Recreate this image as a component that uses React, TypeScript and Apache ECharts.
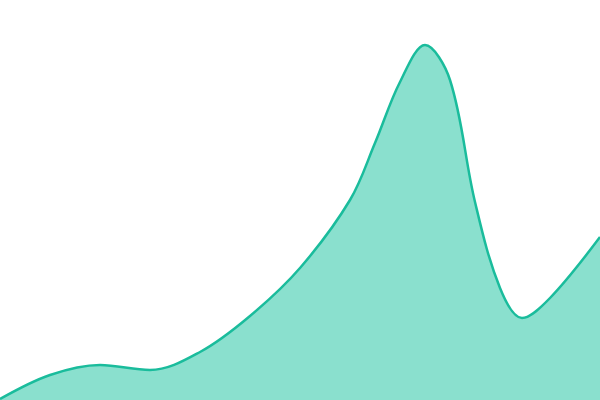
import { useEffect, useRef } from 'react';
import * as echarts from 'echarts';

// sample positions (px along the width) and heights above the baseline
const xPositions = [0, 50, 100, 150, 200, 250, 300, 350, 375, 400, 425, 450, 475, 500, 522, 550, 600];
const heights = [1, 25, 35, 30, 48, 84, 132, 200, 257, 318, 355, 320, 198, 112, 82, 102, 163];

const LINE_COLOR = '#1abc9c';
const FILL_COLOR = '#8ae0ce';

export default function App() {
  const containerRef = useRef<HTMLDivElement>(null);

  useEffect(() => {
    document.body.style.margin = '0';
    if (!containerRef.current) return;
    const chart = echarts.init(containerRef.current, null, { renderer: 'svg' });

    const option: echarts.EChartsOption = {
      animation: false,
      backgroundColor: '#ffffff',
      grid: { left: 0, right: 0, top: 0, bottom: 0 },
      xAxis: { type: 'value', min: 0, max: 600, show: false },
      yAxis: { type: 'value', min: 0, max: 400, show: false },
      series: [
        {
          type: 'line',
          data: xPositions.map((x, i) => [x, heights[i]]),
          smooth: 0.35,
          showSymbol: false,
          lineStyle: { color: LINE_COLOR, width: 2.5 },
          areaStyle: { color: FILL_COLOR, opacity: 1 }
        }
      ]
    };

    chart.setOption(option);
    return () => chart.dispose();
  }, []);

  return <div ref={containerRef} style={{ width: 600, height: 400 }} />;
}
